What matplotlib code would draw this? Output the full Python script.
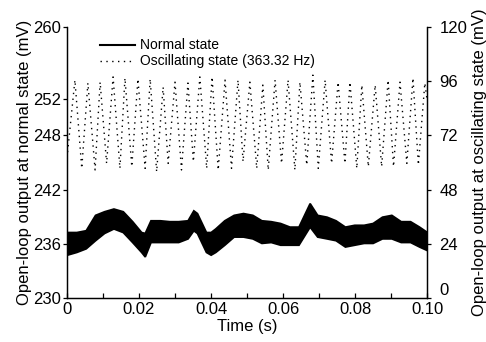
import matplotlib
matplotlib.use('Agg')
import matplotlib.pyplot as plt
from matplotlib.lines import Line2D

# normal state band (left axis), upper / lower edge of the noisy trace
normal_t = [0, 0.0026, 0.0052, 0.0078, 0.0103, 0.0129, 0.0155, 0.0181, 0.0206, 0.0216,
            0.0232, 0.0258, 0.0284, 0.0309, 0.0335, 0.0351, 0.0361, 0.0386, 0.0399, 0.0412,
            0.0437, 0.0463, 0.0489, 0.0515, 0.0540, 0.0566, 0.0592, 0.0618, 0.0643, 0.0674,
            0.0695, 0.0721, 0.0746, 0.0772, 0.0798, 0.0824, 0.0849, 0.0875, 0.0901, 0.0927,
            0.0953, 0.0978, 0.1000]
normal_hi = [237.3, 237.3, 237.5, 239.2, 239.6, 239.9, 239.6, 238.5, 237.3, 237.2,
             238.6, 238.6, 238.5, 238.5, 238.6, 239.7, 239.4, 237.3, 237.3, 237.7,
             238.6, 239.2, 239.4, 239.2, 238.6, 238.5, 238.3, 237.9, 237.9, 240.5,
             239.2, 239.0, 238.6, 237.9, 238.1, 238.1, 238.3, 239.0, 239.2, 238.5,
             238.5, 237.9, 237.3]
normal_lo = [234.8, 235.1, 235.5, 236.4, 237.2, 237.7, 237.3, 236.2, 235.1, 234.6,
             236.2, 236.2, 236.2, 236.2, 236.6, 237.5, 237.2, 235.1, 234.8, 235.1,
             235.9, 236.8, 236.8, 236.6, 236.1, 236.2, 235.9, 235.9, 235.9, 237.9,
             236.8, 236.6, 236.4, 235.7, 235.9, 236.1, 236.1, 236.6, 236.6, 236.2,
             236.2, 235.7, 235.3]

# oscillating state (right axis): peaks and troughs of the waveform
peak_t = [0.0022, 0.0058, 0.0092, 0.0128, 0.0161, 0.0197, 0.0231, 0.0267, 0.0300, 0.0336,
          0.0369, 0.0403, 0.0439, 0.0475, 0.0508, 0.0544, 0.0578, 0.0614, 0.0647, 0.0683,
          0.0717, 0.0753, 0.0786, 0.0819, 0.0856, 0.0892, 0.0925, 0.0961, 0.0994]
peak_v = [96.5, 95.2, 95.6, 97.9, 97.4, 97.0, 97.0, 93.4, 95.6, 95.2,
          97.9, 97.9, 96.5, 96.5, 95.6, 94.3, 96.5, 96.5, 95.6, 98.7,
          96.5, 95.6, 95.6, 94.3, 94.3, 96.5, 95.6, 97.4, 95.2]
trough_t = [0.0041, 0.0078, 0.0110, 0.0147, 0.0180, 0.0217, 0.0249, 0.0281, 0.0318, 0.0351,
            0.0388, 0.0420, 0.0457, 0.0489, 0.0527, 0.0559, 0.0596, 0.0633, 0.0666, 0.0698,
            0.0735, 0.0772, 0.0805, 0.0837, 0.0874, 0.0907, 0.0944, 0.0976]
trough_v = [57.4, 56.7, 59.6, 57.4, 58.2, 57.4, 55.9, 59.6, 56.7, 60.4,
            57.4, 56.7, 57.4, 60.4, 57.4, 56.7, 59.6, 56.7, 58.9, 57.4,
            59.6, 59.6, 57.4, 58.2, 58.2, 58.2, 59.6, 58.9]
osc_start = (0.0, 62.0)
osc_end = (0.1, 88.0)

left_ticks = [230, 236, 242, 248, 252, 260]
right_ticks = [0, 24, 48, 72, 96, 120]
x_ticks = [0, 0.02, 0.04, 0.06, 0.08, 0.10]
x_labels = ['0', '0.02', '0.04', '0.06', '0.08', '0.10']

plt.rcParams['font.family'] = ['Liberation Sans', 'DejaVu Sans']

fig = plt.figure(figsize=(4.86, 3.42), dpi=100)
ax = fig.add_axes([67 / 486, 1 - 298 / 342, 360 / 486, 271 / 342])
ax2 = ax.twinx()

# normal state as filled band (edge line makes it a bit thicker / rougher)
ax.fill_between(normal_t, normal_lo, normal_hi, color='black', linewidth=1.3,
                edgecolor='black', joinstyle='miter')

# zigzag of oscillating state
osc_t = [osc_start[0]]
osc_v = [osc_start[1]]
for i in range(len(peak_t)):
    osc_t.append(peak_t[i])
    osc_v.append(peak_v[i])
    if i < len(trough_t):
        osc_t.append(trough_t[i])
        osc_v.append(trough_v[i])
osc_t.append(osc_end[0])
osc_v.append(osc_end[1])
ax2.plot(osc_t, osc_v, color='black', linewidth=1.0, linestyle=(0, (1, 3.2)))

ax.set_xlim(0, 0.1)
ax.set_ylim(230, 260)
ax2.set_ylim(0, 120)

ax.set_xticks(x_ticks)
ax.set_xticklabels(x_labels)
ax.set_xticks([0.01, 0.03, 0.05, 0.07, 0.09], minor=True)
ax.set_yticks(left_ticks)
ax2.set_yticks(right_ticks)

for a in (ax, ax2):
    a.spines['top'].set_visible(False)
    for s in a.spines.values():
        s.set_linewidth(0.9)
ax.tick_params(axis='x', which='both', direction='in', length=3.5, width=0.9, labelsize=12, pad=3)
ax.tick_params(axis='y', direction='out', length=3, width=0.9, labelsize=12, pad=1)
ax2.tick_params(axis='y', direction='out', length=3, width=0.9, labelsize=12, pad=6)
# right-hand "0" sits a little above its tick, as in the original
ax2.get_yticklabels()[0].set_va('bottom')

ax.set_xlabel('Time (s)', fontsize=12, labelpad=1)
ax.set_ylabel('Open-loop output at normal state (mV)', fontsize=12, labelpad=1)
ax2.set_ylabel('Open-loop output at oscillating state (mV)', fontsize=12, labelpad=3)

handles = [Line2D([], [], color='black', linewidth=1.5),
           Line2D([], [], color='black', linewidth=1.0, linestyle=(0, (1, 3.2)))]
ax2.legend(handles, ['Normal state', 'Oscillating state (363.32 Hz)'], loc='upper left',
           bbox_to_anchor=(0.092, 0.958), frameon=False, fontsize=10, handlelength=2.5,
           handletextpad=0.35, labelspacing=0.15, borderpad=0, borderaxespad=0)

plt.savefig('out.png', dpi=100)
